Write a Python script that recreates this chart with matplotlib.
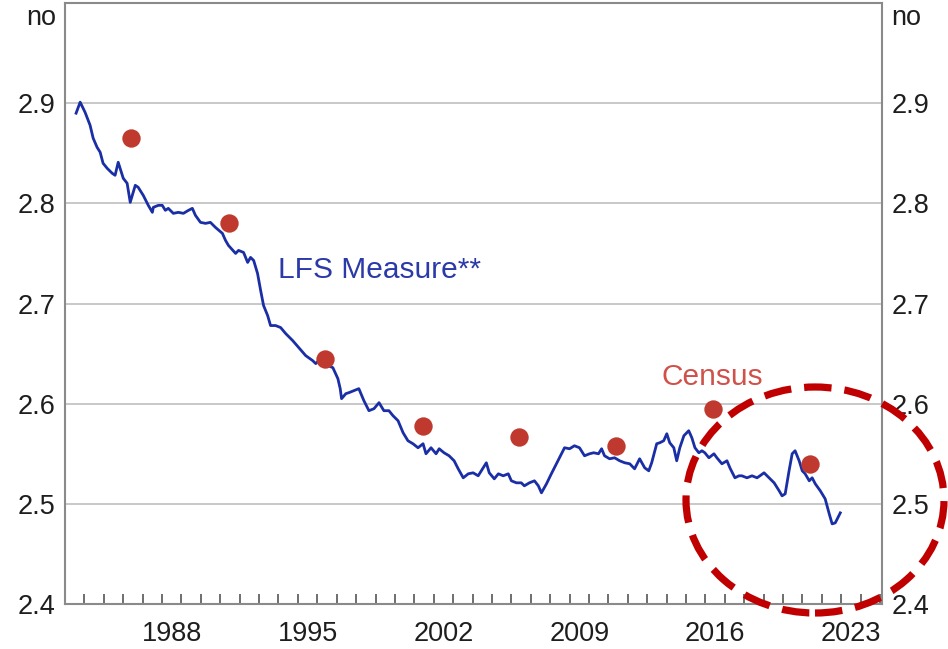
import matplotlib.pyplot as plt
from matplotlib.patches import Ellipse
from matplotlib.ticker import FixedLocator

plt.rcParams['font.family'] = ['Liberation Sans', 'DejaVu Sans']

# LFS measure (persons per household)
lfs_year = [1983.57, 1983.78, 1984.03, 1984.29, 1984.45, 1984.65, 1984.81, 1984.96,
            1985.17, 1985.43, 1985.58, 1985.74, 1986.00, 1986.20, 1986.36, 1986.62,
            1986.77, 1987.03, 1987.29, 1987.50, 1987.55, 1987.81, 1988.01, 1988.17,
            1988.32, 1988.58, 1988.84, 1989.10, 1989.36, 1989.56, 1989.72, 1989.98,
            1990.24, 1990.49, 1990.75, 1991.11, 1991.27, 1991.42, 1991.79, 1991.94,
            1992.20, 1992.41, 1992.56, 1992.72, 1992.92, 1993.08, 1993.23, 1993.44,
            1993.59, 1993.85, 1994.11, 1994.37, 1994.73, 1995.04, 1995.40, 1995.76,
            1995.92, 1996.18, 1996.54, 1996.80, 1997.06, 1997.18, 1997.25, 1997.47,
            1997.63, 1997.88, 1998.14, 1998.40, 1998.66, 1998.92, 1999.18, 1999.43,
            1999.69, 1999.90, 2000.16, 2000.42, 2000.67, 2000.93, 2001.19, 2001.45,
            2001.60, 2001.86, 2002.12, 2002.28, 2002.53, 2002.79, 2003.05, 2003.26,
            2003.52, 2003.78, 2004.03, 2004.29, 2004.45, 2004.71, 2004.86, 2005.12,
            2005.33, 2005.58, 2005.84, 2006.00, 2006.26, 2006.51, 2006.67, 2006.93,
            2007.19, 2007.39, 2007.55, 2007.81, 2008.06, 2008.32, 2008.58, 2008.74,
            2009.00, 2009.25, 2009.51, 2009.77, 2010.03, 2010.24, 2010.49, 2010.65,
            2010.80, 2011.06, 2011.32, 2011.58, 2011.84, 2012.10, 2012.35, 2012.61,
            2012.87, 2013.08, 2013.23, 2013.49, 2013.65, 2013.85, 2014.01, 2014.16,
            2014.37, 2014.52, 2014.68, 2014.89, 2015.14, 2015.30, 2015.46, 2015.66,
            2015.82, 2015.97, 2016.18, 2016.44, 2016.59, 2016.85, 2017.11, 2017.26,
            2017.52, 2017.73, 2017.88, 2018.14, 2018.40, 2018.66, 2018.81, 2019.02,
            2019.28, 2019.54, 2019.80, 2019.95, 2020.11, 2020.31, 2020.47, 2020.62,
            2020.83, 2020.99, 2021.14, 2021.35, 2021.50, 2021.66, 2021.92, 2022.17,
            2022.38, 2022.53, 2022.69, 2022.95]
lfs_value = [2.890, 2.901, 2.891, 2.878, 2.865, 2.856, 2.851, 2.840,
             2.835, 2.830, 2.828, 2.841, 2.825, 2.820, 2.801, 2.818,
             2.816, 2.808, 2.798, 2.791, 2.796, 2.798, 2.798, 2.793,
             2.795, 2.790, 2.791, 2.790, 2.793, 2.795, 2.788, 2.781,
             2.780, 2.781, 2.776, 2.770, 2.763, 2.758, 2.750, 2.753,
             2.751, 2.741, 2.746, 2.743, 2.730, 2.713, 2.698, 2.688,
             2.678, 2.678, 2.676, 2.670, 2.663, 2.656, 2.648, 2.643,
             2.640, 2.645, 2.638, 2.636, 2.625, 2.615, 2.605, 2.610,
             2.611, 2.613, 2.615, 2.603, 2.593, 2.595, 2.601, 2.593,
             2.593, 2.588, 2.583, 2.571, 2.563, 2.560, 2.556, 2.560,
             2.550, 2.556, 2.550, 2.555, 2.551, 2.548, 2.543, 2.535,
             2.526, 2.530, 2.531, 2.528, 2.533, 2.541, 2.531, 2.525,
             2.530, 2.528, 2.530, 2.523, 2.521, 2.521, 2.518, 2.521,
             2.523, 2.518, 2.511, 2.520, 2.530, 2.540, 2.550, 2.556,
             2.555, 2.558, 2.556, 2.548, 2.550, 2.551, 2.550, 2.555,
             2.548, 2.545, 2.546, 2.543, 2.541, 2.540, 2.535, 2.545,
             2.536, 2.533, 2.541, 2.560, 2.561, 2.563, 2.570, 2.561,
             2.556, 2.543, 2.556, 2.568, 2.573, 2.566, 2.556, 2.551,
             2.553, 2.551, 2.546, 2.550, 2.546, 2.540, 2.543, 2.536,
             2.526, 2.528, 2.528, 2.526, 2.528, 2.526, 2.528, 2.531,
             2.526, 2.521, 2.513, 2.508, 2.510, 2.533, 2.550, 2.553,
             2.543, 2.533, 2.530, 2.523, 2.526, 2.520, 2.513, 2.505,
             2.490, 2.480, 2.481, 2.491]

census_year = [1986.41, 1991.47, 1996.42, 2001.43, 2006.39, 2011.40, 2016.41, 2021.37]
census_value = [2.865, 2.780, 2.645, 2.578, 2.567, 2.558, 2.595, 2.540]

label_years = [1988, 1995, 2002, 2009, 2016, 2023]
y_ticks = [2.4, 2.5, 2.6, 2.7, 2.8, 2.9]

fig = plt.figure(figsize=(9.48, 6.49), dpi=100)
ax = fig.add_axes([0.0686, 0.0693, 0.8618, 0.9261])

# gridlines
for v in y_ticks[1:]:
    ax.axhline(v, color='#c8c8c8', lw=1.4, zorder=0)

ax.plot(lfs_year, lfs_value, color='#1a2ea6', lw=2.0, zorder=2)
ax.scatter(census_year, census_value, s=175, color='#c0392f', zorder=3, linewidths=0)

ax.text(1994.0, 2.733, 'LFS Measure**', color='#2b3aa8', fontsize=21.5,
        ha='left', va='center')
ax.text(2016.35, 2.627, 'Census', color='#d0504a', fontsize=21.5,
        ha='center', va='center')

ax.set_xlim(1983.0, 2025.1)
ax.set_ylim(2.4, 3.0)

# year ticks on the boundaries, labels in the middle of the year
ax.xaxis.set_minor_locator(FixedLocator(list(range(1984, 2026))))
ax.set_xticks([y + 0.5 for y in label_years])
ax.set_xticklabels([str(y) for y in label_years])
ax.tick_params(axis='x', which='major', length=0, pad=12, labelsize=19.5, labelcolor='#1e1e1e')
ax.tick_params(axis='x', which='minor', direction='in', length=7, width=1.2, color='#555555')

ax.set_yticks(y_ticks)
ax.set_yticklabels([f'{v:.1f}' for v in y_ticks])
ax.tick_params(axis='y', which='both', length=0, pad=7, labelsize=19.5, labelcolor='#1e1e1e',
               left=True, right=True, labelleft=True, labelright=True)

yt = ax.get_yaxis_transform()
ax.text(-0.011, 2.985, 'no', transform=yt, ha='right', va='center', fontsize=19.5, color='#1e1e1e')
ax.text(1.011, 2.985, 'no', transform=yt, ha='left', va='center', fontsize=19.5, color='#1e1e1e')

for sp in ax.spines.values():
    sp.set_color('#8a8a8a')
    sp.set_linewidth(1.5)

# dashed highlight circle
ring = Ellipse((815 / 948, 1 - 500 / 649), 258 / 948, 226 / 649,
               transform=fig.transFigure, fill=False, edgecolor='#c00000',
               lw=5.2, linestyle=(0, (3.8, 1.8)), zorder=10, clip_on=False)
fig.add_artist(ring)

plt.savefig('out.png', dpi=100)
